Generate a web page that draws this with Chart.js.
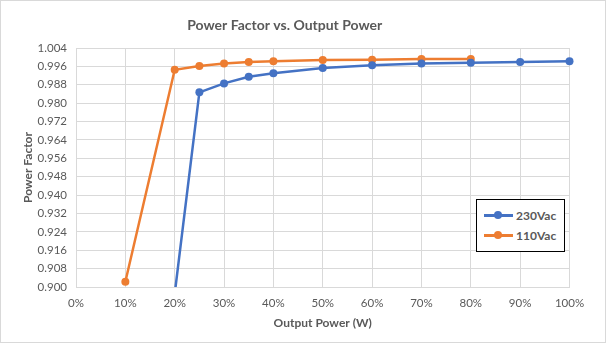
<!DOCTYPE html>
<html>
<head>
<meta charset="utf-8">
<script src="https://cdn.jsdelivr.net/npm/chart.js@4.4.0/dist/chart.umd.min.js"></script>
<style>
  html, body { margin: 0; padding: 0; background: #fff; }
  #wrap { position: relative; width: 606px; height: 343px; overflow: hidden; }
  #frame { position: absolute; left: 0; top: 0; width: 606px; height: 343px; box-sizing: border-box; border: 1px solid #d9d9d9; pointer-events: none; }
  #legend { position: absolute; left: 476px; top: 199px; width: 89px; height: 53px; box-sizing: border-box; border: 1px solid #000; background: #fff; font-family: Lato, "Open Sans", sans-serif; font-weight: bold; font-size: 12px; color: #595959; }
  .item { position: absolute; left: 7px; height: 14px; display: flex; align-items: center; }
  .sym { position: relative; width: 29px; height: 14px; margin-right: 3px; }
  .sym .ln { position: absolute; left: 0; right: 0; top: 6px; height: 2.5px; }
  .sym .dot { position: absolute; left: 10px; top: 3px; width: 8px; height: 8px; border-radius: 50%; }
</style>
</head>
<body>
<div id="wrap">
  <canvas id="c" width="606" height="343"></canvas>
  <div id="legend"></div>
  <div id="frame"></div>
</div>
<script>
// ---- data ----
const x230 = [20, 25, 30, 35, 40, 50, 60, 70, 80, 90, 100];
const pf230 = [0.897, 0.9847, 0.9886, 0.9915, 0.9930, 0.9953, 0.9965, 0.9973, 0.9976, 0.9979, 0.9982];
const x110 = [10, 20, 25, 30, 35, 40, 50, 60, 70, 80];
const pf110 = [0.9023, 0.9945, 0.9962, 0.9973, 0.9979, 0.9982, 0.9988, 0.9989, 0.9992, 0.9992];
const seriesNames = ['230Vac', '110Vac'];
const seriesColors = ['#4472C4', '#ED7D31'];
const xTicks = [0, 10, 20, 30, 40, 50, 60, 70, 80, 90, 100];
const yTicks = [0.900, 0.908, 0.916, 0.924, 0.932, 0.940, 0.948, 0.956, 0.964, 0.972, 0.980, 0.988, 0.996, 1.004];
const chartTitle = 'Power Factor vs. Output Power';
const xTitle = 'Output Power (W)';
const yTitle = 'Power Factor';

const toPts = (xs, ys) => xs.map((x, i) => ({ x: x, y: ys[i] }));
const FONT = 'Lato, "Open Sans", sans-serif';
const TXT = '#595959';
const GRID = '#d9d9d9';

const ds = [toPts(x230, pf230), toPts(x110, pf110)].map((d, i) => ({
  label: seriesNames[i],
  data: d,
  borderColor: seriesColors[i],
  backgroundColor: seriesColors[i],
  borderWidth: 2.5,
  pointRadius: 4,
  pointHoverRadius: 4,
  pointBorderWidth: 0,
  tension: 0,
  clip: { left: 6, top: 6, right: 6, bottom: 0 }
}));

new Chart(document.getElementById('c'), {
  type: 'line',
  data: { datasets: ds },
  options: {
    responsive: false,
    animation: false,
    events: [],
    layout: { padding: { left: 0, right: 36.5, top: 0, bottom: 0 } },
    plugins: {
      legend: { display: false },
      tooltip: { enabled: false },
      title: {
        display: true,
        text: chartTitle,
        color: TXT,
        font: { family: FONT, size: 14, weight: 'bold', lineHeight: 1.2 },
        padding: { top: 16.6, bottom: 14.6 }
      }
    },
    scales: {
      x: {
        type: 'linear',
        min: 0, max: 100,
        afterBuildTicks: s => { s.ticks = xTicks.map(v => ({ value: v })); },
        afterFit: s => { s.height = 56; },
        ticks: {
          color: TXT, padding: 9,
          font: { family: FONT, size: 11.5 },
          callback: v => v + '%'
        },
        grid: { color: GRID, lineWidth: 1, drawTicks: false },
        border: { color: GRID },
        title: {
          display: true, text: xTitle, color: TXT,
          font: { family: FONT, size: 12, weight: 'bold', lineHeight: 1.2 },
          padding: { top: 0, bottom: 13 }
        }
      },
      y: {
        min: 0.9, max: 1.004,
        afterBuildTicks: s => { s.ticks = yTicks.map(v => ({ value: v })); },
        afterFit: s => { s.width = 76; },
        ticks: {
          color: TXT, padding: 9,
          font: { family: FONT, size: 11.5 },
          callback: v => Number(v).toFixed(3)
        },
        grid: { color: GRID, lineWidth: 1, drawTicks: false },
        border: { color: GRID },
        title: {
          display: true, text: yTitle, color: TXT,
          font: { family: FONT, size: 12, weight: 'bold', lineHeight: 1.2 },
          padding: { top: 21, bottom: 0 }
        }
      }
    }
  }
});

// HTML legend built from the series names/colours
const lg = document.getElementById('legend');
seriesNames.forEach((n, i) => {
  const it = document.createElement('div');
  it.className = 'item';
  it.style.top = (i === 0 ? 8 : 28) + 'px';
  it.innerHTML = '<span class="sym"><span class="ln" style="background:' + seriesColors[i] +
    '"></span><span class="dot" style="background:' + seriesColors[i] + '"></span></span><span>' + n + '</span>';
  lg.appendChild(it);
});
</script>
</body>
</html>
